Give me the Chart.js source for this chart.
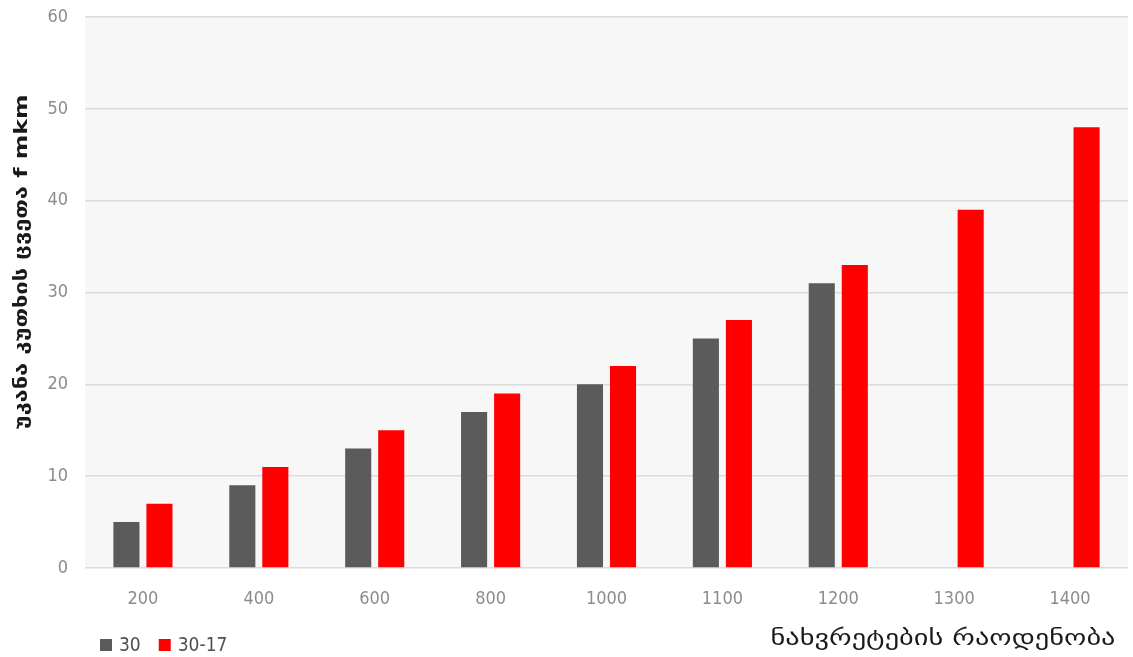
<!DOCTYPE html>
<html>
<head>
<meta charset="utf-8">
<script src="https://cdn.jsdelivr.net/npm/chart.js@4"></script>
<style>
  html, body { margin: 0; padding: 0; background: #ffffff; }
  #wrap { width: 1133px; height: 657px; position: relative; }
</style>
</head>
<body>
<div id="wrap"><canvas id="c" width="1133" height="657"></canvas></div>
<script>
// Number of drilled holes
const categories = ['200', '400', '600', '800', '1000', '1100', '1200', '1300', '1400'];
// Wear, f mkm
const series30 = [5, 9, 13, 17, 20, 25, 31, null, null];
const series30_17 = [7, 11, 15, 19, 22, 27, 33, 39, 48];
const seriesNames = ['30', '30-17'];
const seriesColors = ['#5b5b5b', '#ff0000'];
const yTicks = [0, 10, 20, 30, 40, 50, 60];

const xTitle = 'ნახვრეტების რაოდენობა';
const yTitle = 'უკანა კუთხის ცვეთა f mkm';

const numFamily = "'Liberation Sans Narrow', 'DejaVu Sans Condensed', 'Liberation Sans', sans-serif";
const tickFont = { family: numFamily, size: 18 };
const geoFont = "'DejaVu Sans', 'Noto Sans', sans-serif";

// Light grey plot background behind the bars
const plotBg = {
  id: 'plotBg',
  beforeDraw(chart) {
    const { ctx, chartArea: a } = chart;
    ctx.save();
    ctx.fillStyle = '#f7f7f7';
    ctx.fillRect(a.left, a.top, a.right - a.left, a.bottom - a.top);
    ctx.restore();
  }
};

// Draws text stretched horizontally to a given width
function stretchedText(ctx, text, x, y, width) {
  const w = ctx.measureText(text).width;
  ctx.save();
  ctx.translate(x, y);
  ctx.scale(width / w, 1);
  ctx.fillText(text, 0, 0);
  ctx.restore();
}

// Axis titles and the legend row under the plot
const titlesAndLegend = {
  id: 'titlesAndLegend',
  afterDraw(chart) {
    const { ctx } = chart;
    ctx.save();
    ctx.fillStyle = '#1a1a1a';
    ctx.textAlign = 'center';
    ctx.textBaseline = 'middle';
    ctx.font = '21px ' + geoFont;
    stretchedText(ctx, xTitle, 943, 640, 345);

    ctx.save();
    ctx.translate(22, 262);
    ctx.rotate(-Math.PI / 2);
    ctx.font = 'bold 18px ' + geoFont;
    stretchedText(ctx, yTitle, 0, 0, 335);
    ctx.restore();

    // legend built from the datasets
    ctx.textAlign = 'left';
    ctx.font = '19px ' + numFamily;
    let x = 100;
    chart.data.datasets.forEach(ds => {
      ctx.fillStyle = ds.backgroundColor;
      ctx.fillRect(x, 639, 12, 12);
      ctx.fillStyle = '#505050';
      ctx.fillText(ds.label, x + 19, 646);
      x += 19 + ctx.measureText(ds.label).width + 18;
    });
    ctx.restore();
  }
};

new Chart(document.getElementById('c'), {
  type: 'bar',
  data: {
    labels: categories,
    datasets: [
      { label: seriesNames[0], data: series30, backgroundColor: seriesColors[0] },
      { label: seriesNames[1], data: series30_17, backgroundColor: seriesColors[1] }
    ]
  },
  options: {
    responsive: false,
    animation: false,
    devicePixelRatio: 1,
    layout: { padding: { top: 17, right: 5, left: 0, bottom: 0 } },
    datasets: { bar: { categoryPercentage: 0.57, barPercentage: 0.79 } },
    plugins: {
      tooltip: { enabled: false },
      legend: { display: false }
    },
    scales: {
      x: {
        grid: { display: false, drawTicks: false },
        border: { display: false },
        ticks: { color: '#8c8c8c', font: tickFont, padding: 21, maxRotation: 0 },
        afterFit(s) { s.height = 89; }
      },
      y: {
        min: 0,
        max: 60,
        afterBuildTicks(s) { s.ticks = yTicks.map(v => ({ value: v })); },
        grid: { color: '#dcdcdc', lineWidth: 1.5, drawTicks: false },
        border: { display: false },
        ticks: { color: '#8c8c8c', font: tickFont, padding: 17 },
        afterFit(s) { s.width = 85; s.paddingTop = 0; s.paddingBottom = 0; }
      }
    }
  },
  plugins: [plotBg, titlesAndLegend]
});
</script>
</body>
</html>
